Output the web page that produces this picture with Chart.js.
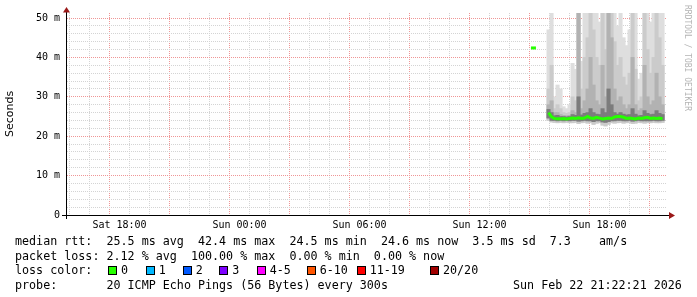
<!DOCTYPE html>
<html lang="en">
<head>
<meta charset="UTF-8">
<title>Smokeping latency</title>
<script src="https://cdn.jsdelivr.net/npm/chart.js@4"></script>
<style>
    body { margin: 0; background: #fff; }
    #wrap { position: relative; width: 697px; height: 297px; overflow: hidden; }
    #c { position: absolute; left: 0; top: 0; }
    .lg {
        position: absolute;
        left: 15px;
        font-family: 'DejaVu Sans Mono', monospace;
        font-size: 11.7px;
        line-height: 14px;
        white-space: pre;
        color: #000;
    }
    .box {
        position: absolute;
        top: 3px;
        width: 7px;
        height: 7px;
        border: 1px solid #000;
    }
    #mark {
        position: absolute;
        left: 683px;
        top: 5px;
        writing-mode: vertical-rl;
        font-family: 'DejaVu Sans Mono', monospace;
        font-size: 8px;
        color: #b4b4b4;
        white-space: pre;
    }
</style>
</head>
<body>
<div id="wrap">
    <canvas id="c" width="697" height="297"></canvas>
    <div id="mark">RRDTOOL / TOBI OETIKER</div>
    <div class="lg" style="top:234px">median rtt:  25.5 ms avg  42.4 ms max  24.5 ms min  24.6 ms now  3.5 ms sd  7.3    am/s</div>
    <div class="lg" style="top:248.7px">packet loss: 2.12 % avg  100.00 % max  0.00 % min  0.00 % now</div>
    <div class="lg" id="lossLine" style="top:263.3px">loss color:</div>
    <div class="lg" style="top:278px">probe:       20 ICMP Echo Pings (56 Bytes) every 300s</div>
    <div class="lg" style="top:278px;left:513px">Sun Feb 22 21:22:21 2026</div>
</div>

<script>
// time axis: hours since Sat 00:00, graph ends Sun 21:22:21 (30 h window)
const xMin = 15.3725;
const xMax = 45.3725;
const yMax = 51.27; // ms

const xTickHours = [18, 24, 30, 36, 42];
const xTickLabels = ['Sat 18:00', 'Sun 00:00', 'Sun 06:00', 'Sun 12:00', 'Sun 18:00'];
const yTickValues = [0, 10, 20, 30, 40, 50];
const yTickLabels = ['0', '10 m', '20 m', '30 m', '40 m', '50 m'];

// one lonely sample before the outage
const blipTimes = [38.57, 38.82];
const blipRtt = [42.4, 42.4];

// smoke samples (ms)
const smokeTimes = [39.45, 39.60, 39.75, 39.90, 40.05, 40.20, 40.35, 40.50, 40.65, 40.80,
                    40.95, 41.10, 41.25, 41.40, 41.55, 41.70, 41.85, 42.00, 42.15, 42.30,
                    42.45, 42.60, 42.75, 42.90, 43.05, 43.20, 43.35, 43.50, 43.65, 43.80,
                    43.95, 44.10, 44.25, 44.40, 44.55, 44.70, 44.85, 45.00, 45.15];
const medianRtt = [26.0, 24.9, 24.5, 24.4, 24.4, 24.5, 24.4, 24.5, 24.6, 24.5,
                   24.7, 24.5, 24.6, 25.0, 24.6, 24.5, 24.8, 24.6, 24.4, 24.5,
                   24.6, 24.5, 24.9, 25.0, 25.0, 24.8, 24.5, 24.6, 24.5, 24.4,
                   24.6, 24.5, 24.7, 24.8, 24.5, 24.6, 24.5, 24.6, 24.4];
const minRtt = [24.0, 23.6, 23.5, 23.4, 23.5, 23.4, 23.5, 23.4, 23.4, 23.5,
                23.2, 23.4, 23.5, 23.3, 23.4, 23.0, 23.3, 23.4, 22.8, 22.6,
                23.0, 23.4, 23.3, 23.4, 23.5, 23.3, 23.4, 23.5, 23.2, 23.3,
                23.5, 23.4, 23.3, 23.4, 23.4, 23.5, 23.4, 23.4, 23.5];
const lowRtt = [24.6, 24.0, 24.0, 23.9, 24.0, 23.9, 24.0, 23.9, 24.0, 24.0,
                23.8, 23.9, 24.0, 23.9, 23.9, 23.7, 23.9, 23.9, 23.6, 23.5,
                23.7, 23.9, 23.9, 24.0, 24.0, 23.9, 23.9, 24.0, 23.8, 23.9,
                24.0, 23.9, 23.9, 23.9, 23.9, 24.0, 23.9, 23.9, 24.0];
const maxRtt = [47, 51.5, 30, 33, 32, 27.5, 27, 28, 38.5, 37,
                51.5, 39, 51.5, 51.5, 51.5, 51.5, 51.5, 49, 51.5, 51.5,
                51.5, 51.5, 51.5, 48, 51.5, 45, 43, 47, 51.5, 51.5,
                34.5, 36, 51.5, 51.5, 49, 51.5, 51.5, 51.5, 51.5];
const upperRtt = [32, 38, 27, 28, 27, 26, 25.8, 26, 30, 29,
                  51.5, 32, 40, 45, 51.5, 47, 40, 38, 51.5, 42,
                  51.5, 51.5, 44, 38, 40, 35, 33, 36, 51.5, 37,
                  29, 30, 51.5, 42, 36, 40, 51.5, 45, 38];
const midRtt = [28, 29, 26, 26, 25.5, 25.3, 25.2, 25.3, 26.5, 26,
                51.5, 27, 29, 32, 40, 33, 29, 28, 38, 30,
                51.5, 45, 32, 29, 30, 28, 27, 28, 40, 28,
                26.5, 27, 38, 30, 28, 29, 36, 30, 28];
const innerRtt = [26.8, 26, 25.2, 25.3, 25, 25, 24.9, 25, 25.5, 25.3,
                  30, 25.4, 25.8, 26, 27, 26, 25.6, 25.5, 27, 26,
                  32, 28, 26, 25.6, 26, 25.6, 25.4, 25.5, 27, 25.6,
                  25.2, 25.3, 26.5, 25.8, 25.5, 25.6, 26.5, 25.8, 25.5];

const lossLabels = ['0', '1', '2', '3', '4-5', '6-10', '11-19', '20/20'];
const lossColors = ['#26ff00', '#00b8ff', '#0059ff', '#7e00ff', '#ff00ff', '#ff5500', '#ff0000', '#a10000'];
const lossBoxX = [108, 145.7, 182.7, 219.3, 256.7, 306.7, 356.7, 430];

// loss colour legend
const lossLine = document.getElementById('lossLine');
lossLabels.forEach((lab, i) => {
    const b = document.createElement('span');
    b.className = 'box';
    b.style.left = (lossBoxX[i] - 15) + 'px';
    b.style.background = lossColors[i];
    lossLine.appendChild(b);
    const t = document.createElement('span');
    t.style.position = 'absolute';
    t.style.left = (lossBoxX[i] - 15 + 13) + 'px';
    t.textContent = lab;
    lossLine.appendChild(t);
});

function band(lo, hi) {
    return smokeTimes.map((t, i) => ({x: t, y: [lo[i], hi[i]]}));
}
function line(times, vals) {
    return times.map((t, i) => ({x: t, y: vals[i]}));
}

const MINOR = '#d4d4d4';
const MAJOR = '#ef9696';

// black axes with the little rrdtool arrows
const axisArrows = {
    id: 'axisArrows',
    afterDraw(chart) {
        const {ctx, chartArea: a} = chart;
        ctx.save();
        ctx.strokeStyle = '#000';
        ctx.lineWidth = 1;
        ctx.beginPath();
        ctx.moveTo(a.left - 5, a.bottom + 0.5);
        ctx.lineTo(a.right + 3, a.bottom + 0.5);
        ctx.moveTo(a.left - 0.5, a.bottom + 4);
        ctx.lineTo(a.left - 0.5, a.top - 1);
        ctx.stroke();
        ctx.fillStyle = '#9a1818';
        ctx.beginPath();
        ctx.moveTo(a.right + 2, a.bottom - 3);
        ctx.lineTo(a.right + 8, a.bottom + 0.5);
        ctx.lineTo(a.right + 2, a.bottom + 4);
        ctx.closePath();
        ctx.fill();
        ctx.beginPath();
        ctx.moveTo(a.left - 4, a.top - 0.5);
        ctx.lineTo(a.left - 0.5, a.top - 6);
        ctx.lineTo(a.left + 3, a.top - 0.5);
        ctx.closePath();
        ctx.fill();
        ctx.restore();
    }
};

const barCommon = {type: 'bar', grouped: false, barThickness: 3.4, borderWidth: 0};

new Chart(document.getElementById('c'), {
    type: 'bar',
    data: {
        datasets: [
            {type: 'line', data: line(smokeTimes, medianRtt), borderColor: '#26ff00', borderWidth: 3,
             pointRadius: 0, tension: 0, order: 0},
            {type: 'line', data: line(blipTimes, blipRtt), borderColor: '#26ff00', borderWidth: 3,
             pointRadius: 0, order: 0},
            {...barCommon, data: band(lowRtt, innerRtt), backgroundColor: '#7c7c7c', order: 1},
            {...barCommon, data: band(lowRtt, midRtt), backgroundColor: '#b2b2b2', order: 2},
            {...barCommon, data: band(minRtt, upperRtt), backgroundColor: '#cbcbcb', order: 3},
            {...barCommon, data: band(minRtt, maxRtt), backgroundColor: '#dedede', order: 4}
        ]
    },
    options: {
        responsive: false,
        animation: false,
        devicePixelRatio: 1,
        layout: {padding: {left: 0, right: 30, top: 13, bottom: 0}},
        plugins: {legend: {display: false}, tooltip: {enabled: false}},
        scales: {
            x: {
                type: 'linear',
                min: xMin,
                max: xMax,
                offset: false,
                z: 1,
                afterBuildTicks: (s) => {
                    const t = [];
                    for (let h = 16; h <= 45; h++) t.push({value: h});
                    s.ticks = t;
                },
                afterFit: (s) => { s.height = 82; },
                grid: {
                    drawTicks: false,
                    lineWidth: 1,
                    color: (c) => (c.tick && c.tick.value % 3 === 0) ? MAJOR : MINOR
                },
                border: {display: false, dash: [1, 1]},
                ticks: {
                    autoSkip: false,
                    maxRotation: 0,
                    padding: 4,
                    color: '#000',
                    font: {family: 'DejaVu Sans Mono', size: 10},
                    callback: (v) => {
                        const k = xTickHours.indexOf(v);
                        return k >= 0 ? xTickLabels[k] : '';
                    }
                }
            },
            y: {
                min: 0,
                max: yMax,
                z: 1,
                afterBuildTicks: (s) => {
                    const t = [];
                    for (let v = 0; v <= 50; v += 2) t.push({value: v});
                    s.ticks = t;
                },
                afterFit: (s) => { s.width = 67; },
                title: {
                    display: true,
                    text: 'Seconds',
                    color: '#000',
                    font: {family: 'DejaVu Sans', size: 11},
                    padding: {top: 4, bottom: 0}
                },
                grid: {
                    drawTicks: false,
                    lineWidth: 1,
                    color: (c) => (c.tick && c.tick.value % 10 === 0) ? MAJOR : MINOR
                },
                border: {display: false, dash: [1, 1]},
                ticks: {
                    autoSkip: false,
                    padding: 7,
                    color: '#000',
                    font: {family: 'DejaVu Sans Mono', size: 10},
                    callback: (v) => {
                        const k = yTickValues.indexOf(v);
                        return k >= 0 ? yTickLabels[k] : '';
                    }
                }
            }
        }
    },
    plugins: [axisArrows]
});
</script>
</body>
</html>
